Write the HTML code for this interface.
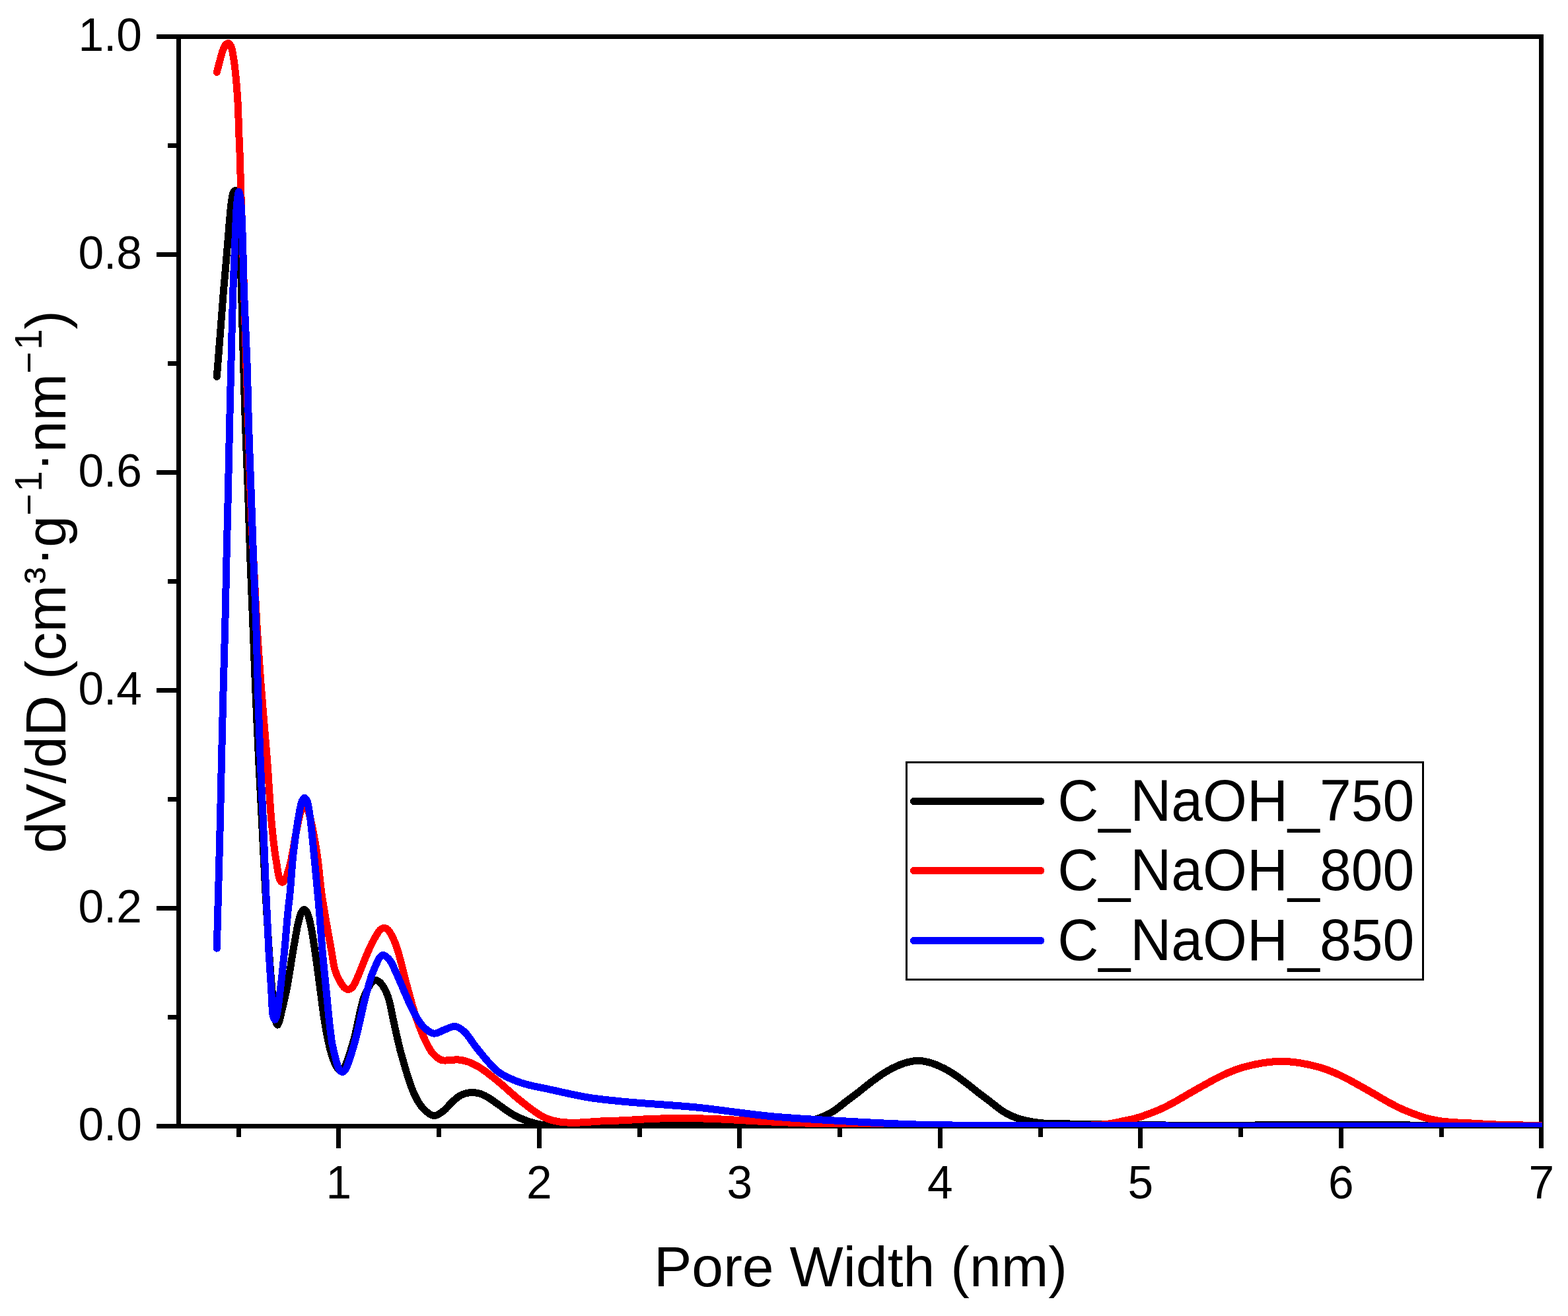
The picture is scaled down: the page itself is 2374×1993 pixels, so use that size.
<!DOCTYPE html>
<html lang="en"><head><meta charset="utf-8">
<title>Pore size distribution</title>
<style>
html,body{margin:0;padding:0;background:#fff;}
body{width:2374px;height:1993px;overflow:hidden;}
svg{display:block;position:absolute;left:0;top:0;}
text{font-family:"Liberation Sans",Arial,Helvetica,sans-serif;fill:#000;}
.tk{font-size:69.5px;}
.tt{font-size:86px;}
.lg{font-size:86px;}
.sp{font-size:56.5px;}
.ax{fill:#000;shape-rendering:crispEdges;}
.cv{fill:none;stroke-width:11;stroke-linejoin:round;stroke-linecap:round;shape-rendering:crispEdges;}
</style></head><body>
<svg xmlns="http://www.w3.org/2000/svg" width="2374" height="1993" viewBox="0 0 2374 1993">
<rect x="0" y="0" width="2374" height="1993" fill="#fff"/>
<defs><clipPath id="plotclip"><rect x="267" y="52" width="2068" height="1655"/></clipPath></defs>
<g class="ax">
<rect x="237" y="52" width="2100" height="7"/>
<rect x="237" y="1702" width="2100" height="7"/>
<rect x="267" y="52" width="7" height="1657"/>
<rect x="2330" y="52" width="7" height="1687"/>
<rect x="254" y="1537" width="13" height="7"/>
<rect x="237" y="1372" width="30" height="7"/>
<rect x="254" y="1207" width="13" height="7"/>
<rect x="237" y="1042" width="30" height="7"/>
<rect x="254" y="877" width="13" height="7"/>
<rect x="237" y="712" width="30" height="7"/>
<rect x="254" y="547" width="13" height="7"/>
<rect x="237" y="382" width="30" height="7"/>
<rect x="254" y="217" width="13" height="7"/>
<rect x="358" y="1709" width="7" height="13"/>
<rect x="509" y="1709" width="7" height="30"/>
<rect x="661" y="1709" width="7" height="13"/>
<rect x="813" y="1709" width="7" height="30"/>
<rect x="965" y="1709" width="7" height="13"/>
<rect x="1116" y="1709" width="7" height="30"/>
<rect x="1268" y="1709" width="7" height="13"/>
<rect x="1420" y="1709" width="7" height="30"/>
<rect x="1572" y="1709" width="7" height="13"/>
<rect x="1723" y="1709" width="7" height="30"/>
<rect x="1875" y="1709" width="7" height="13"/>
<rect x="2027" y="1709" width="7" height="30"/>
<rect x="2179" y="1709" width="7" height="13"/>
</g>
<g clip-path="url(#plotclip)">
<path class="cv" stroke="#000000" d="M328.3 570.5C330.0 548.7 331.8 526.8 333.5 505.0C335.2 483.3 336.9 459.4 338.5 440.0C339.8 424.2 341.1 411.3 342.3 397.0C343.5 382.7 344.5 368.8 345.8 354.3C347.1 339.3 348.5 319.7 350.0 308.6C350.8 302.2 351.5 296.9 352.6 293.5C353.2 291.6 353.8 289.9 354.8 289.2C355.5 288.7 356.5 288.5 357.3 288.7C358.1 288.9 359.0 289.3 359.6 290.2C360.8 291.9 360.8 295.6 361.3 300.0C362.2 308.8 362.3 323.7 362.8 340.0C363.6 365.8 364.6 405.6 365.5 440.0C366.5 476.8 367.6 518.9 368.7 554.3C369.6 584.9 370.3 609.4 371.4 640.0C372.6 675.4 374.5 718.9 375.8 754.3C376.9 784.9 377.5 809.4 378.6 840.0C379.9 875.4 381.8 918.9 383.2 954.3C384.4 984.9 385.3 1009.4 386.6 1040.0C388.1 1075.4 390.1 1118.9 391.8 1154.3C393.3 1184.9 394.7 1209.4 396.3 1240.0C398.1 1275.4 400.1 1318.9 402.1 1354.3C403.8 1384.9 405.6 1414.0 407.4 1440.0C408.9 1461.8 410.5 1483.1 412.0 1500.0C413.1 1512.3 414.1 1523.3 415.2 1532.0C416.0 1538.0 416.3 1543.6 417.5 1547.2C418.2 1549.4 419.2 1552.2 420.0 1552.2C420.8 1552.2 421.7 1549.7 422.5 1547.6C423.9 1543.9 425.0 1537.8 426.5 1531.4C428.7 1522.1 431.8 1510.0 434.3 1497.1C437.6 1480.5 440.7 1457.6 443.8 1440.0C446.5 1424.8 449.0 1408.2 451.6 1397.5C453.3 1390.8 454.5 1384.8 456.6 1381.4C457.8 1379.4 459.3 1377.5 460.6 1377.5C461.9 1377.5 463.4 1379.4 464.6 1381.4C466.7 1384.8 468.0 1390.8 469.6 1397.5C472.2 1408.2 474.5 1424.8 476.8 1440.0C479.5 1457.6 482.0 1478.1 484.6 1497.1C487.2 1516.2 489.3 1536.4 492.6 1554.3C495.5 1570.5 498.9 1588.3 502.9 1600.0C505.5 1607.7 508.7 1615.1 511.5 1618.5C512.9 1620.2 514.1 1621.5 515.5 1621.5C516.9 1621.5 518.4 1620.5 520.0 1618.5C524.3 1613.1 529.8 1594.8 534.2 1580.0C540.0 1560.9 545.4 1527.1 550.0 1513.0C552.2 1506.3 553.9 1502.8 556.2 1498.5C558.2 1494.7 560.1 1490.8 562.6 1488.4C564.6 1486.5 567.1 1484.5 569.3 1484.5C571.6 1484.5 574.1 1486.7 576.2 1488.8C579.0 1491.6 581.7 1496.2 583.8 1500.5C586.1 1505.1 587.7 1509.8 589.3 1515.5C591.3 1522.6 592.5 1530.8 594.5 1540.0C597.0 1551.7 600.9 1569.5 603.4 1580.0C605.0 1586.9 605.6 1589.8 607.7 1597.1C611.6 1610.6 619.4 1639.6 626.0 1654.3C630.4 1664.2 634.3 1671.9 640.0 1678.0C644.9 1683.2 651.3 1689.2 656.9 1689.6C662.0 1689.9 667.5 1685.3 672.0 1682.0C676.6 1678.6 679.9 1673.0 684.3 1669.1C688.6 1665.2 693.2 1660.9 698.0 1658.5C702.4 1656.3 707.1 1655.0 711.7 1654.6C716.1 1654.2 720.7 1654.7 725.0 1655.8C729.5 1656.9 733.5 1659.0 738.0 1661.5C743.3 1664.4 748.4 1668.6 754.3 1672.6C761.3 1677.4 769.3 1683.9 777.1 1688.2C784.5 1692.3 792.2 1695.7 800.0 1698.3C807.5 1700.8 814.9 1702.7 822.9 1703.8C831.5 1705.0 838.6 1704.8 850.0 1705.0C869.6 1705.4 904.2 1704.6 930.0 1704.5C954.1 1704.4 975.9 1704.4 1000.0 1704.4C1025.8 1704.4 1055.2 1704.4 1080.0 1704.4C1101.4 1704.4 1122.0 1704.7 1140.0 1704.6C1154.7 1704.5 1169.0 1704.5 1180.0 1703.8C1187.8 1703.3 1193.3 1702.7 1200.0 1701.8C1206.7 1700.9 1213.4 1699.8 1220.0 1698.4C1226.7 1697.0 1233.4 1695.7 1240.0 1693.4C1246.8 1691.0 1253.5 1687.9 1260.0 1684.0C1266.9 1679.9 1273.3 1674.0 1280.0 1669.0C1286.7 1664.0 1293.4 1658.9 1300.0 1653.8C1306.7 1648.6 1313.3 1643.0 1320.0 1638.0C1326.6 1633.1 1333.2 1628.1 1340.0 1624.0C1346.5 1620.0 1353.7 1616.3 1360.0 1613.6C1365.3 1611.3 1369.9 1609.6 1375.0 1608.4C1379.9 1607.2 1385.0 1606.5 1390.0 1606.5C1395.0 1606.5 1400.1 1607.2 1405.0 1608.4C1410.1 1609.6 1414.7 1611.3 1420.0 1613.6C1426.3 1616.3 1433.5 1620.0 1440.0 1624.0C1446.8 1628.1 1453.4 1633.1 1460.0 1638.0C1466.7 1643.0 1473.3 1648.6 1480.0 1653.8C1486.6 1658.9 1493.3 1664.0 1500.0 1669.0C1506.7 1674.0 1513.1 1679.9 1520.0 1684.0C1526.5 1687.9 1533.2 1691.0 1540.0 1693.4C1546.6 1695.7 1553.3 1697.1 1560.0 1698.4C1566.6 1699.7 1572.2 1700.4 1580.0 1701.0C1591.0 1701.9 1605.6 1701.8 1620.0 1702.0C1636.7 1702.3 1653.9 1702.2 1674.3 1702.5C1700.7 1702.8 1731.8 1703.7 1765.0 1704.0C1805.5 1704.3 1848.8 1704.0 1900.0 1704.0C1967.5 1704.0 2081.0 1703.4 2135.0 1704.0C2163.4 1704.3 2174.2 1705.2 2200.0 1705.5C2237.8 1705.9 2293.3 1705.5 2340.0 1705.5"/>
<path class="cv" stroke="#ff0000" d="M328.3 109.4C330.4 101.5 332.8 91.9 334.6 85.7C335.8 81.6 336.4 78.6 337.7 75.5C338.9 72.6 340.1 69.3 341.8 67.6C343.0 66.4 344.7 65.3 346.0 65.5C347.3 65.8 348.5 67.6 349.5 69.5C351.2 72.7 352.0 78.5 353.0 84.0C354.3 91.1 355.3 99.1 356.3 108.6C357.7 121.5 359.1 139.1 360.0 154.3C360.9 169.5 361.1 185.3 361.7 200.0C362.2 213.8 362.9 226.2 363.4 240.0C363.9 254.7 364.1 269.9 364.6 285.7C365.1 302.9 365.8 318.7 366.5 339.4C367.4 367.7 368.5 405.4 369.5 440.0C370.6 476.9 371.8 518.9 372.9 554.3C373.9 584.9 374.8 609.4 375.8 640.0C377.0 675.4 378.0 718.9 379.4 754.3C380.6 784.9 382.0 809.4 383.5 840.0C385.3 875.4 387.3 918.9 389.4 954.3C391.3 984.9 393.1 1009.4 395.4 1040.0C398.1 1075.4 402.1 1118.9 404.8 1154.3C407.1 1184.9 408.6 1215.9 410.7 1240.0C412.2 1257.6 413.9 1273.1 415.5 1285.7C416.7 1294.7 417.7 1301.0 419.0 1308.6C420.3 1316.2 421.4 1326.8 423.5 1331.5C424.6 1333.9 425.9 1336.3 427.3 1336.4C428.6 1336.5 430.1 1334.5 431.5 1332.3C434.3 1327.8 437.2 1316.5 439.3 1308.6C441.3 1301.0 442.5 1293.3 443.9 1285.7C445.3 1278.1 446.2 1271.4 447.9 1262.9C450.1 1252.0 453.3 1233.1 456.5 1226.0C458.0 1222.7 459.5 1219.5 461.1 1219.5C462.7 1219.5 464.4 1222.8 466.0 1226.5C470.3 1236.4 475.4 1265.2 478.9 1285.7C482.6 1307.6 484.7 1337.0 487.1 1354.3C488.6 1364.9 489.5 1369.7 491.2 1380.0C493.8 1395.6 498.6 1421.9 501.6 1438.5C503.8 1450.7 504.8 1461.6 507.6 1470.4C509.7 1477.0 512.6 1482.6 515.2 1487.1C517.1 1490.4 518.8 1493.3 521.0 1495.3C522.9 1496.9 525.2 1498.6 527.3 1498.6C529.4 1498.6 531.6 1496.9 533.5 1495.0C536.1 1492.4 537.9 1487.5 540.0 1483.0C542.6 1477.6 545.2 1470.7 547.7 1464.5C550.2 1458.3 552.6 1452.0 555.2 1446.0C557.7 1440.2 560.2 1434.4 562.8 1429.2C565.1 1424.6 567.4 1420.2 569.8 1416.4C571.9 1413.1 573.8 1409.4 576.2 1407.6C578.0 1406.2 580.0 1405.3 581.9 1405.4C583.8 1405.5 585.8 1406.6 587.6 1408.3C590.3 1410.9 593.0 1416.3 595.2 1420.9C597.6 1425.9 599.2 1430.0 601.5 1437.1C605.8 1450.3 611.7 1476.3 616.6 1494.3C621.0 1510.4 624.9 1525.8 629.7 1540.0C634.1 1552.8 639.2 1566.0 644.0 1576.0C647.6 1583.5 650.6 1589.9 655.0 1595.0C658.9 1599.4 663.6 1603.7 668.3 1605.4C672.4 1606.8 676.8 1605.7 681.0 1605.6C685.2 1605.5 689.2 1604.6 693.4 1604.9C697.8 1605.2 702.6 1606.1 707.0 1607.5C711.5 1608.9 716.0 1611.1 720.0 1613.1C723.6 1615.0 726.0 1616.4 730.0 1619.1C736.4 1623.5 745.6 1630.8 754.3 1637.9C764.9 1646.5 776.9 1658.3 788.6 1667.4C799.8 1676.2 812.3 1686.5 822.9 1691.7C830.7 1695.6 837.4 1697.2 845.0 1698.6C852.7 1700.1 859.4 1700.2 868.6 1700.3C881.3 1700.4 901.2 1698.3 914.3 1697.7C924.1 1697.3 930.2 1697.3 940.0 1696.9C952.9 1696.4 969.9 1695.1 985.0 1694.5C1000.3 1693.9 1015.8 1693.5 1031.4 1693.5C1047.4 1693.5 1061.4 1693.8 1080.0 1694.5C1105.0 1695.4 1134.4 1697.6 1168.0 1699.0C1213.0 1700.9 1272.1 1703.0 1326.0 1704.0C1382.6 1705.0 1445.1 1704.7 1500.0 1704.8C1549.2 1704.9 1607.5 1705.6 1640.0 1704.5C1657.4 1703.9 1669.0 1703.3 1680.0 1701.8C1687.9 1700.8 1693.3 1699.2 1700.0 1697.8C1706.7 1696.4 1713.4 1695.2 1720.0 1693.4C1726.7 1691.5 1733.4 1689.1 1740.0 1686.6C1746.7 1684.1 1753.4 1681.5 1760.0 1678.4C1766.7 1675.3 1773.4 1671.6 1780.0 1668.0C1786.7 1664.3 1793.3 1660.2 1800.0 1656.4C1806.7 1652.6 1813.3 1648.7 1820.0 1645.0C1826.7 1641.3 1833.3 1637.5 1840.0 1634.0C1846.6 1630.6 1853.3 1627.3 1860.0 1624.4C1866.6 1621.6 1873.3 1619.1 1880.0 1617.0C1886.6 1615.0 1893.3 1613.4 1900.0 1612.0C1906.6 1610.6 1913.3 1609.4 1920.0 1608.6C1926.6 1607.8 1933.3 1607.4 1940.0 1607.4C1946.7 1607.4 1953.4 1607.8 1960.0 1608.6C1966.7 1609.4 1973.4 1610.6 1980.0 1612.0C1986.7 1613.4 1993.4 1615.0 2000.0 1617.0C2006.7 1619.1 2013.4 1621.6 2020.0 1624.4C2026.7 1627.3 2033.4 1630.6 2040.0 1634.0C2046.7 1637.5 2053.3 1641.3 2060.0 1645.0C2066.7 1648.7 2073.3 1652.6 2080.0 1656.4C2086.7 1660.2 2093.3 1664.3 2100.0 1668.0C2106.6 1671.6 2113.3 1675.3 2120.0 1678.4C2126.6 1681.5 2133.3 1684.1 2140.0 1686.6C2146.6 1689.1 2153.3 1691.6 2160.0 1693.4C2166.6 1695.2 2173.3 1696.6 2180.0 1697.6C2186.6 1698.6 2192.9 1699.1 2200.0 1699.6C2208.0 1700.2 2215.9 1700.4 2225.7 1700.9C2238.8 1701.6 2254.6 1702.7 2271.4 1703.3C2291.9 1704.0 2317.1 1704.1 2340.0 1704.5"/>
<path class="cv" stroke="#0000ff" d="M328.3 1436.2C329.0 1408.9 329.7 1383.9 330.5 1354.3C331.4 1319.4 332.6 1275.4 333.5 1240.0C334.2 1209.4 334.7 1184.9 335.4 1154.3C336.2 1118.9 337.3 1075.4 338.2 1040.0C339.0 1009.4 339.8 984.9 340.6 954.3C341.5 918.9 342.3 875.4 343.1 840.0C343.8 809.4 344.5 784.9 345.2 754.3C346.0 718.9 346.9 675.4 347.7 640.0C348.4 609.4 349.0 584.9 349.8 554.3C350.7 518.9 351.6 475.4 352.8 440.0C353.8 409.4 355.1 378.9 356.3 354.3C357.2 335.6 357.6 316.6 359.0 305.0C359.8 298.7 360.8 290.4 361.7 290.4C362.6 290.4 363.7 298.7 364.5 305.0C365.9 316.5 366.4 335.6 367.1 354.3C368.1 378.9 368.3 409.4 369.4 440.0C370.6 475.4 373.0 518.9 374.2 554.3C375.2 584.9 375.5 609.4 376.4 640.0C377.5 675.4 379.2 718.9 380.5 754.3C381.6 784.9 382.4 809.4 383.5 840.0C384.8 875.4 386.8 918.9 388.0 954.3C389.0 984.9 389.4 1009.4 390.4 1040.0C391.5 1075.4 392.9 1118.9 394.3 1154.3C395.5 1184.9 397.0 1209.4 398.3 1240.0C399.8 1275.4 401.4 1318.9 402.9 1354.3C404.2 1384.9 405.5 1414.3 406.9 1440.0C408.1 1460.9 409.4 1479.4 410.6 1497.0C411.6 1512.1 411.6 1531.8 413.5 1539.0C414.2 1541.7 415.1 1544.2 416.0 1544.2C416.9 1544.2 417.8 1541.7 418.7 1539.0C421.0 1531.8 422.7 1512.2 424.6 1497.1C426.8 1479.6 428.8 1459.3 430.7 1440.0C432.6 1420.3 434.4 1395.8 436.0 1380.0C437.0 1369.6 437.9 1364.7 438.9 1354.3C440.5 1338.5 441.8 1314.0 444.0 1294.3C446.2 1275.0 449.3 1252.2 452.0 1237.1C453.8 1227.2 455.2 1217.1 457.5 1212.5C458.6 1210.4 459.9 1208.4 461.1 1208.4C462.3 1208.4 463.6 1210.4 464.7 1212.5C467.0 1217.1 467.9 1227.2 469.4 1237.1C471.6 1252.2 473.5 1275.0 475.4 1294.3C477.4 1314.1 479.6 1338.5 481.1 1354.3C482.1 1364.7 482.5 1369.6 483.4 1380.0C484.7 1395.8 486.4 1420.3 488.1 1440.0C489.8 1459.3 491.8 1478.1 493.7 1497.1C495.6 1516.2 497.6 1539.0 499.4 1554.3C500.6 1564.6 501.4 1572.0 502.8 1580.0C504.1 1587.1 505.6 1593.4 507.4 1600.0C509.2 1606.6 511.0 1615.7 513.5 1619.5C514.9 1621.6 516.5 1623.3 518.0 1623.4C519.5 1623.5 521.0 1622.5 522.5 1620.5C526.9 1615.0 532.2 1595.3 536.7 1580.0C542.4 1560.6 547.7 1531.9 552.6 1513.0C556.2 1499.1 559.4 1486.6 562.8 1476.9C565.1 1470.2 567.6 1465.0 569.8 1460.1C571.6 1456.2 572.9 1452.1 575.0 1449.8C576.5 1448.1 578.3 1446.5 580.0 1446.4C581.8 1446.3 583.9 1448.1 585.7 1449.5C587.8 1451.1 589.5 1453.1 591.4 1455.9C594.0 1459.8 596.5 1466.1 599.0 1471.5C601.6 1477.1 604.2 1483.2 606.7 1489.0C609.3 1494.9 611.5 1500.3 614.3 1506.6C617.5 1513.9 620.8 1522.3 625.0 1530.0C629.4 1538.1 634.1 1548.0 640.0 1554.0C645.0 1559.1 651.2 1564.4 656.9 1565.1C662.2 1565.8 667.6 1561.3 673.0 1559.5C678.3 1557.7 683.9 1553.9 688.9 1554.4C693.9 1554.9 698.5 1558.5 703.0 1562.5C709.0 1567.7 715.0 1578.5 720.0 1584.8C723.7 1589.6 726.9 1593.6 730.0 1597.3C732.5 1600.4 734.1 1602.4 737.0 1605.6C741.4 1610.4 747.0 1618.0 754.3 1623.2C763.4 1629.7 776.1 1635.3 788.6 1639.7C802.5 1644.6 818.2 1646.8 834.3 1650.3C852.3 1654.3 873.1 1659.2 891.4 1662.2C908.2 1664.9 927.3 1666.6 940.0 1667.9C948.1 1668.7 950.9 1668.9 960.0 1669.7C979.8 1671.4 1021.4 1673.8 1054.3 1677.0C1090.6 1680.6 1130.5 1687.2 1168.6 1690.7C1206.7 1694.2 1244.8 1696.0 1282.9 1698.1C1321.0 1700.2 1353.6 1702.2 1397.1 1703.3C1455.1 1704.8 1521.0 1704.2 1600.0 1704.5C1710.9 1705.0 1872.1 1705.3 2000.0 1705.5C2117.9 1705.6 2226.7 1705.5 2340.0 1705.5"/>
</g>
<g class="tk">
<text transform="translate(215 1726.5) scale(1 1.02)" text-anchor="end">0.0</text>
<text transform="translate(215 1396.5) scale(1 1.02)" text-anchor="end">0.2</text>
<text transform="translate(215 1066.5) scale(1 1.02)" text-anchor="end">0.4</text>
<text transform="translate(215 736.5) scale(1 1.02)" text-anchor="end">0.6</text>
<text transform="translate(215 406.5) scale(1 1.02)" text-anchor="end">0.8</text>
<text transform="translate(215 76.5) scale(1 1.02)" text-anchor="end">1.0</text>
<text transform="translate(512.75 1814.5) scale(1 1.02)" text-anchor="middle">1</text>
<text transform="translate(816.25 1814.5) scale(1 1.02)" text-anchor="middle">2</text>
<text transform="translate(1119.75 1814.5) scale(1 1.02)" text-anchor="middle">3</text>
<text transform="translate(1423.25 1814.5) scale(1 1.02)" text-anchor="middle">4</text>
<text transform="translate(1726.75 1814.5) scale(1 1.02)" text-anchor="middle">5</text>
<text transform="translate(2030.25 1814.5) scale(1 1.02)" text-anchor="middle">6</text>
<text transform="translate(2333.75 1814.5) scale(1 1.02)" text-anchor="middle">7</text>
</g>
<text class="tt" x="1303" y="1948" text-anchor="middle">Pore Width (nm)</text>
<text class="tt" transform="translate(99 1292) rotate(-90)" x="0" y="0">dV/dD (cm<tspan style="font-size:76px" dx="1.6" dy="-10.4">³</tspan><tspan dx="1.6" dy="3">·</tspan><tspan dy="7.4">g</tspan><tspan class="sp" dy="-36.5">−</tspan><tspan class="sp" dx="3">1</tspan><tspan dx="-0.5" dy="29.1">·</tspan><tspan dy="7.4">nm</tspan><tspan class="sp" dy="-36.5">−</tspan><tspan class="sp" dx="3">1</tspan><tspan dx="-0.5" dy="36.5">)</tspan></text>
<rect x="1372.5" y="1154.5" width="782" height="329" fill="#fff" stroke="#000" stroke-width="3" shape-rendering="crispEdges"/>
<line x1="1383.5" y1="1213.5" x2="1576" y2="1213.5" stroke="#000000" stroke-width="11" stroke-linecap="round" shape-rendering="crispEdges"/>
<text class="lg" transform="translate(1601.3 1243.1) scale(1 1.045)">C_NaOH_750</text>
<line x1="1383.5" y1="1318.5" x2="1576" y2="1318.5" stroke="#ff0000" stroke-width="11" stroke-linecap="round" shape-rendering="crispEdges"/>
<text class="lg" transform="translate(1601.3 1348.1) scale(1 1.045)">C_NaOH_800</text>
<line x1="1383.5" y1="1424.5" x2="1576" y2="1424.5" stroke="#0000ff" stroke-width="11" stroke-linecap="round" shape-rendering="crispEdges"/>
<text class="lg" transform="translate(1601.3 1454.1) scale(1 1.045)">C_NaOH_850</text>
</svg>
</body></html>
